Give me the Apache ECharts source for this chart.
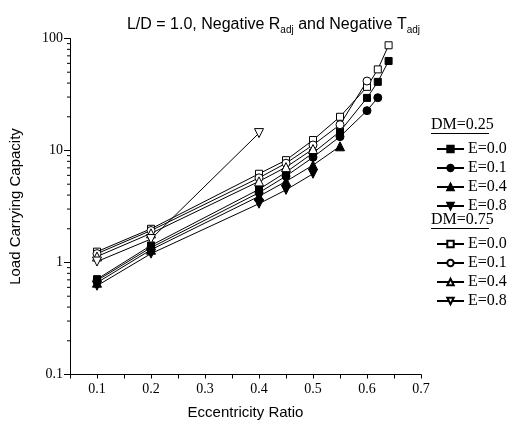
<!DOCTYPE html>
<html><head><meta charset="utf-8">
<script src="https://cdn.jsdelivr.net/npm/echarts@6/dist/echarts.min.js"></script>
<style>html,body{margin:0;padding:0;background:#fff}#c{width:514px;height:429px}</style>
</head><body><div id="c"></div>
<script>
// ---- data ----
const xTicksLabels = ['0.1','0.2','0.3','0.4','0.5','0.6','0.7'];
const yTickLabels = ['0.1','1','10','100'];
const minorTickValues = [0.2,0.3,0.4,0.5,0.6,0.7,0.8,0.9,2,3,4,5,6,7,8,9,20,30,40,50,60,70,80,90];

const dm25_e00_x = [0.1,0.2,0.4,0.45,0.5,0.55,0.6,0.62,0.64];
const dm25_e00_y = [0.71,1.42,4.5,6.4,9.5,14.8,29.5,41,63];
const dm25_e01_x = [0.1,0.2,0.4,0.45,0.5,0.55,0.6,0.62];
const dm25_e01_y = [0.69,1.36,4.2,5.9,8.7,13.3,22.7,29.6];
const dm25_e04_x = [0.1,0.2,0.4,0.45,0.5,0.55];
const dm25_e04_y = [0.66,1.3,3.9,5.3,7.4,10.9];
const dm25_e08_x = [0.1,0.2,0.4,0.45,0.5];
const dm25_e08_y = [0.62,1.2,3.35,4.45,6.2];

const dm75_e00_x = [0.1,0.2,0.4,0.45,0.5,0.55,0.6,0.62,0.64];
const dm75_e00_y = [1.25,2.0,6.2,8.2,12.4,20,37,53,87];
const dm75_e01_x = [0.1,0.2,0.4,0.45,0.5,0.55,0.6];
const dm75_e01_y = [1.2,1.93,5.7,7.7,11.2,17,41.7];
const dm75_e04_x = [0.1,0.2,0.4,0.45,0.5];
const dm75_e04_y = [1.13,1.82,5.3,7.1,10.3];
const dm75_e08_x = [0.1,0.2,0.4];
const dm75_e08_y = [1.02,1.62,14.3];

const serif = 'Liberation Serif';
const sans = 'Liberation Sans';
const downTri = 'path://M0,0L10,0L5,8.66Z';

function zip(xs, ys){ return xs.map((x,i)=>[x, ys[i]]); }
function mk(name, xs, ys, symbol, filled){
  return {
    type:'line', name:name, data: zip(xs,ys), symbol:symbol,
    symbolSize: symbol==='circle' ? 8 : (symbol==='rect' ? 7 : 9),
    showAllSymbol:true,
    lineStyle:{color:'#000', width:1},
    itemStyle:{color: filled ? '#000' : '#fff', borderColor:'#000', borderWidth:1},
    emphasis:{disabled:true}, animation:false, z:3
  };
}

const series = [
  mk('a|E=0.0', dm25_e00_x, dm25_e00_y, 'rect', true),
  mk('a|E=0.1', dm25_e01_x, dm25_e01_y, 'circle', true),
  mk('a|E=0.4', dm25_e04_x, dm25_e04_y, 'triangle', true),
  mk('a|E=0.8', dm25_e08_x, dm25_e08_y, downTri, true),
  mk('b|E=0.0', dm75_e00_x, dm75_e00_y, 'rect', false),
  mk('b|E=0.1', dm75_e01_x, dm75_e01_y, 'circle', false),
  mk('b|E=0.4', dm75_e04_x, dm75_e04_y, 'triangle', false),
  mk('b|E=0.8', dm75_e08_x, dm75_e08_y, downTri, false),
  {
    type:'custom', name:'minor', silent:true, animation:false, z:2,
    data: minorTickValues.map(v=>[0.05, v]),
    renderItem: function(params, api){
      const p = api.coord([api.value(0), api.value(1)]);
      return {type:'line', shape:{x1:p[0]-3, y1:p[1], x2:p[0], y2:p[1]}, style:{stroke:'#000', lineWidth:1}};
    }
  }
];

const legendCommon = {
  orient:'vertical', left:431, itemWidth:27, itemHeight:8, itemGap:3,
  textStyle:{fontFamily:serif, fontSize:16, lineHeight:16, color:'#000', padding:[0,0,0,-1]},
  formatter: n => n.split('|')[1],
  selectedMode:false
};

const chart = echarts.init(document.getElementById('c'), null, {renderer:'canvas'});
chart.setOption({
  animation:false,
  backgroundColor:'#fff',
  title:{
    text:'L/D = 1.0, Negative R{s|adj} and Negative T{s|adj}',
    right:89, top:10,
    textStyle:{fontFamily:sans, fontSize:16, fontWeight:'normal', color:'#000',
      rich:{s:{fontFamily:sans, fontSize:10, color:'#000', padding:[10,0,0,0]}}}
  },
  grid:{left:67, right:93, top:38.5, bottom:54.5},
  xAxis:{
    type:'value', min:0.05, max:0.7, interval:0.05,
    name:'Eccentricity Ratio', nameLocation:'middle', nameGap:31,
    nameTextStyle:{fontFamily:sans, fontSize:15, color:'#000'},
    axisLine:{lineStyle:{color:'#000', width:1}},
    axisTick:{show:true, inside:false, length:4, lineStyle:{color:'#000'}},
    axisLabel:{fontFamily:serif, fontSize:14, color:'#000', margin:8, showMinLabel:true,
      formatter: v => { const k = Math.round(v*100); return (k % 10 === 0) ? xTicksLabels[k/10 - 1] : ''; }},
    splitLine:{show:false}
  },
  yAxis:{
    type:'log', logBase:10, min:0.1, max:100,
    name:'Load Carrying Capacity', nameLocation:'middle', nameGap:47, nameRotate:90,
    nameTextStyle:{fontFamily:sans, fontSize:15, color:'#000'},
    axisLine:{show:true, lineStyle:{color:'#000', width:1}},
    axisTick:{show:true, inside:false, length:6, lineStyle:{color:'#000'}},
    axisLabel:{fontFamily:serif, fontSize:14, color:'#000', margin:7,
      formatter: v => { const i = Math.round(Math.log10(v)) + 1; return yTickLabels[i] || ''; }},
    splitLine:{show:false}
  },
  legend:[
    Object.assign({}, legendCommon, {top:136, data:['a|E=0.0','a|E=0.1','a|E=0.4','a|E=0.8']}),
    Object.assign({}, legendCommon, {top:231, data:['b|E=0.0','b|E=0.1','b|E=0.4','b|E=0.8']})
  ],
  graphic:[
    {type:'text', left:431, top:117, style:{text:'DM=0.25', font:'16px "Liberation Serif"', fill:'#000'}},
    {type:'line', shape:{x1:431, y1:133.5, x2:489, y2:133.5}, style:{stroke:'#000', lineWidth:1}},
    {type:'text', left:431, top:212, style:{text:'DM=0.75', font:'16px "Liberation Serif"', fill:'#000'}},
    {type:'line', shape:{x1:431, y1:228.5, x2:489, y2:228.5}, style:{stroke:'#000', lineWidth:1}}
  ],
  series: series
});
</script>
</body></html>
